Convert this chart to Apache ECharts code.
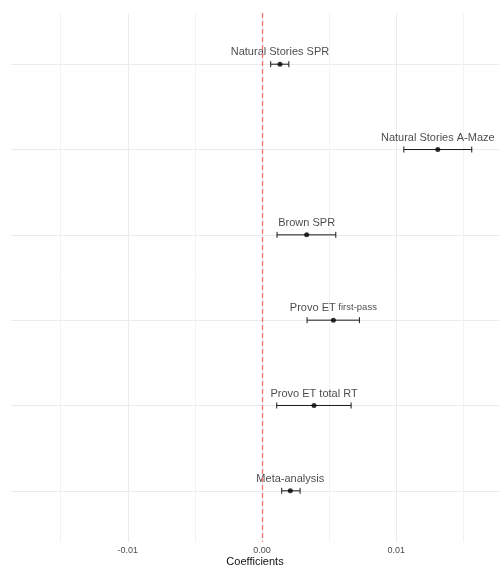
<!DOCTYPE html>
<html>
<head>
<meta charset="utf-8">
<script src="https://cdn.jsdelivr.net/npm/echarts@6/dist/echarts.min.js"></script>
<style>
  html, body { margin: 0; padding: 0; background: #fff; }
  #chart { width: 500px; height: 567px; }
</style>
</head>
<body>
<div id="chart"></div>
<script>
// studies top to bottom, with estimate and interval bounds
const studies = ['Natural Stories SPR', 'Natural Stories A-Maze', 'Brown SPR', 'Provo ET first-pass', 'Provo ET total RT', 'Meta-analysis'];
const estimates = [0.00134, 0.0131, 0.00333, 0.00532, 0.00388, 0.00211];
const lower = [0.00065, 0.01057, 0.00112, 0.00336, 0.0011, 0.00147];
const upper = [0.0020, 0.01563, 0.0055, 0.00726, 0.00664, 0.00284];
const majorTicks = [-0.01, 0, 0.01];
const minorTicks = [-0.015, -0.005, 0.005, 0.015];
const rowTicks = [1, 2, 3, 4, 5, 6];

const chart = echarts.init(document.getElementById('chart'));

const pointData = studies.map((name, i) => ({ name: name, value: [estimates[i], i + 1] }));
const barData = studies.map((name, i) => [i + 1, lower[i], upper[i]]);

const font = 'Liberation Sans, Arial, sans-serif';

chart.setOption({
  animation: false,
  grid: { left: 11, right: 1, top: 13, bottom: 25, outerBoundsMode: 'none', containLabel: false },
  xAxis: [
    {
      type: 'value',
      min: -0.0187,
      max: 0.01766,
      name: 'Coefficients',
      nameLocation: 'middle',
      nameGap: 14,
      nameMoveOverlap: false,
      nameTextStyle: { color: '#111', fontSize: 11, fontFamily: font },
      axisLine: { show: false },
      axisTick: { show: false, customValues: majorTicks },
      axisLabel: {
        customValues: majorTicks,
        margin: 4,
        color: '#4d4d4d',
        fontSize: 9,
        fontFamily: font,
        formatter: v => v.toFixed(2)
      },
      splitLine: { show: true, lineStyle: { color: '#ebebeb', width: 1 } }
    },
    {
      type: 'value',
      min: -0.0187,
      max: 0.01766,
      position: 'bottom',
      axisLine: { show: false },
      axisTick: { show: false, customValues: minorTicks },
      axisLabel: { show: false },
      splitLine: { show: true, lineStyle: { color: '#f3f3f3', width: 1 } }
    }
  ],
  yAxis: {
    type: 'value',
    min: 0.4,
    max: 6.6,
    inverse: true,
    axisLine: { show: false },
    axisTick: { show: false, customValues: rowTicks },
    axisLabel: { show: false },
    splitLine: { show: true, lineStyle: { color: '#ebebeb', width: 1 } }
  },
  series: [
    {
      type: 'custom',
      data: barData,
      encode: { x: [1, 2], y: 0 },
      z: 3,
      renderItem: (params, api) => {
        const y = api.value(0);
        const a = api.coord([api.value(1), y]);
        const b = api.coord([api.value(2), y]);
        const h = 3;
        const style = { stroke: '#1a1a1a', lineWidth: 1 };
        return {
          type: 'group',
          children: [
            { type: 'line', shape: { x1: a[0], y1: a[1], x2: b[0], y2: b[1] }, style: style },
            { type: 'line', shape: { x1: a[0], y1: a[1] - h, x2: a[0], y2: a[1] + h }, style: style },
            { type: 'line', shape: { x1: b[0], y1: b[1] - h, x2: b[0], y2: b[1] + h }, style: style }
          ]
        };
      }
    },
    {
      type: 'scatter',
      data: pointData,
      symbolSize: 5,
      z: 4,
      itemStyle: { color: '#000' },
      label: {
        show: true,
        position: 'top',
        distance: 4,
        color: '#1a1a1a',
        fontSize: 11,
        fontFamily: font,
        formatter: p => p.name === 'Provo ET first-pass' ? '{a|Provo ET}{b| first-pass}' : p.name,
        rich: {
          a: { fontSize: 11, color: '#1a1a1a', fontFamily: font },
          b: { fontSize: 9.5, color: '#1a1a1a', fontFamily: font, padding: [0, 0, 1, 0] }
        }
      },
      markLine: {
        silent: true,
        symbol: 'none',
        label: { show: false },
        lineStyle: { color: '#f07272', type: [5, 3], width: 1.3 },
        data: [{ xAxis: 0 }]
      }
    }
  ]
});
</script>
</body>
</html>
